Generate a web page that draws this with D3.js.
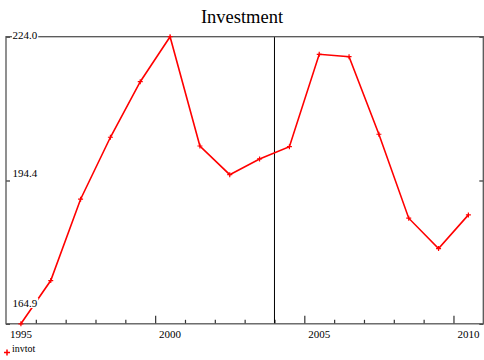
<!DOCTYPE html>
<html>
<head>
<meta charset="utf-8">
<script src="https://cdn.jsdelivr.net/npm/d3@7"></script>
<style>
  html, body { margin: 0; padding: 0; background: #fff; }
  svg { display: block; }
  text { font-family: "Liberation Serif", "Times New Roman", serif; }
</style>
</head>
<body>
<script>
// Annual investment series (invtot)
const years = [1995, 1996, 1997, 1998, 1999, 2000, 2001, 2002,
               2003, 2004, 2005, 2006, 2007, 2008, 2009, 2010];
const invtot = [164.9, 173.8, 190.55, 203.3, 214.74, 224.0, 201.5, 195.6,
                198.84, 201.37, 220.38, 219.89, 203.92, 186.64, 180.39, 187.32];
const yTickValues = [224.0, 194.4, 164.9];
const xTickLabels = [1995, 2000, 2005, 2010];
const breakYear = 2003.5;
const seriesName = "invtot";
const title = "Investment";

const W = 484, H = 360;
const plot = { left: 6, right: 483.3, top: 36.7, bottom: 323.8 };

const svg = d3.select("body").append("svg")
  .attr("width", W).attr("height", H);

const x = d3.scaleLinear()
  .domain([years[0] - 0.5, years[years.length - 1] + 0.5])
  .range([plot.left, plot.right]);
const y = d3.scaleLinear()
  .domain([d3.min(invtot), d3.max(invtot)])
  .range([plot.bottom, plot.top]);

// Title
svg.append("text")
  .attr("x", W / 2).attr("y", 23)
  .attr("text-anchor", "middle")
  .attr("font-size", 18.5)
  .attr("fill", "#000")
  .text(title);

// Bottom axis: minor ticks at each year boundary, major every five years
const tickPos = d3.range(years[0] + 0.5, years[years.length - 1], 1);
const bottomAxis = d3.axisBottom(x)
  .tickValues(tickPos)
  .tickSizeOuter(0)
  .tickFormat("");
const gx = svg.append("g")
  .attr("transform", `translate(0,${plot.bottom})`)
  .call(bottomAxis);
gx.select(".domain").remove();
gx.selectAll(".tick line")
  .attr("y2", d => (Math.round(d + 0.5) % 5 === 0) ? -8 : -4)
  .attr("stroke", "#333")
  .attr("stroke-width", 1.2);

// Year labels under the axis
svg.append("g").selectAll("text")
  .data(xTickLabels)
  .join("text")
  .attr("x", d => x(d))
  .attr("y", 338)
  .attr("text-anchor", "middle")
  .attr("font-size", 11)
  .attr("fill", "#000")
  .text(d => d);

// Inward ticks on the left and right frame edges
const leftAxis = d3.axisRight(y).tickValues(yTickValues).tickSize(4).tickFormat("");
const gl = svg.append("g").attr("transform", `translate(${plot.left},0)`).call(leftAxis);
gl.select(".domain").remove();
gl.selectAll(".tick line").attr("stroke", "#333").attr("stroke-width", 1.2);
const rightAxis = d3.axisLeft(y).tickValues(yTickValues).tickSize(4).tickFormat("");
const gr = svg.append("g").attr("transform", `translate(${plot.right},0)`).call(rightAxis);
gr.select(".domain").remove();
gr.selectAll(".tick line").attr("stroke", "#333").attr("stroke-width", 1.2);

// Vertical marker line
svg.append("line")
  .attr("x1", x(breakYear)).attr("x2", x(breakYear))
  .attr("y1", plot.top).attr("y2", plot.bottom)
  .attr("stroke", "#000")
  .attr("stroke-width", 1);

// Frame
svg.append("rect")
  .attr("x", plot.left).attr("y", plot.top)
  .attr("width", plot.right - plot.left)
  .attr("height", plot.bottom - plot.top)
  .attr("fill", "none")
  .attr("stroke", "#555")
  .attr("stroke-width", 1.3);

// Series line
const pts = years.map((yr, i) => [yr, invtot[i]]);
svg.append("path")
  .datum(pts)
  .attr("fill", "none")
  .attr("stroke", "#ff0000")
  .attr("stroke-width", 1.6)
  .attr("d", d3.line().x(d => x(d[0])).y(d => y(d[1])));

// Point markers (small crosses)
const cross = d3.symbol().type(d3.symbolCross).size(14);
svg.append("g").selectAll("path")
  .data(pts)
  .join("path")
  .attr("transform", d => `translate(${x(d[0])},${y(d[1])})`)
  .attr("d", "M-2.5,0H2.5M0,-2.5V2.5")
  .attr("stroke", "#ff0000")
  .attr("stroke-width", 1.2)
  .attr("fill", "none");

// Value labels inside the plot, with white backing
const labelOffsets = [2.6, -3, -16.8];
const yl = svg.append("g");
yTickValues.forEach((v, i) => {
  const g = yl.append("g");
  const t = g.append("text")
    .attr("x", 12.5)
    .attr("y", y(v) + labelOffsets[i])
    .attr("font-size", 11)
    .attr("fill", "#000")
    .text(v.toFixed(1));
  const bb = t.node().getBBox();
  g.insert("rect", "text")
    .attr("x", bb.x - 0.5).attr("y", bb.y + 1)
    .attr("width", bb.width + 1).attr("height", bb.height - 2)
    .attr("fill", "#fff");
});

// Legend
const lg = svg.append("g").attr("transform", "translate(7,352.5)");
lg.append("path")
  .attr("d", "M-3,0H3M0,-3V3")
  .attr("stroke", "#ff0000")
  .attr("stroke-width", 1.5);
lg.append("text")
  .attr("x", 5).attr("y", -0.5)
  .attr("font-size", 10)
  .attr("fill", "#000")
  .text(seriesName);
</script>
</body>
</html>
